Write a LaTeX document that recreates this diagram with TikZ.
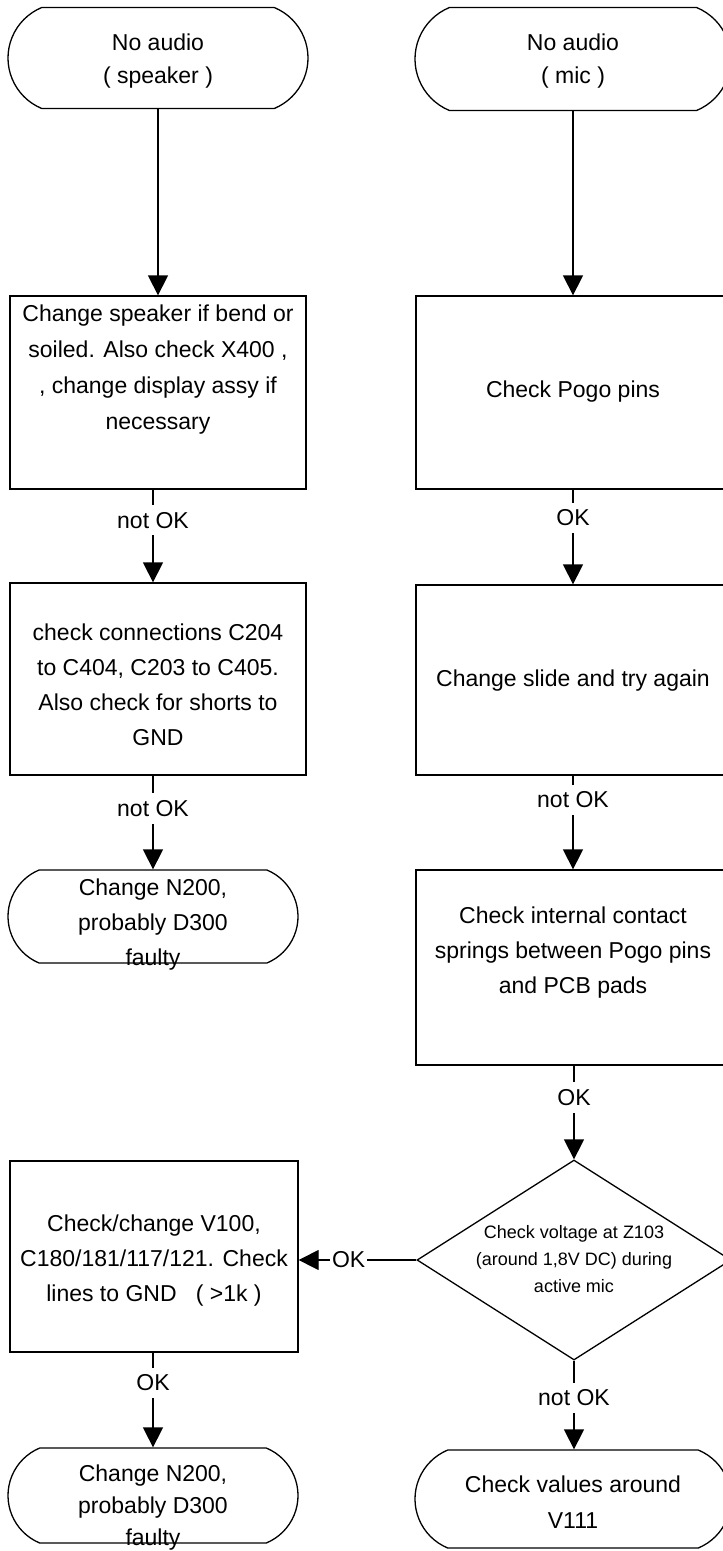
\documentclass[tikz,border=0pt]{standalone}
\usepackage{fontspec}
\setmainfont{Liberation Sans}
\usetikzlibrary{shapes.misc,shapes.geometric,arrows.meta}
\begin{document}
\begin{tikzpicture}[x=1pt,y=-1pt,
  term/.style={draw, line width=1.3pt, rounded rectangle, rounded rectangle arc length=135, inner sep=0pt},
  boxx/.style={draw, line width=1.3pt, rectangle, inner sep=0pt},
  dia/.style={draw, line width=1.3pt, diamond, inner sep=0pt},
  txt/.style={align=center, inner sep=0pt, font=\fontsize{23}{#1}\selectfont},
  txt/.default=35,
  lbl/.style={fill=white, inner xsep=2pt, inner ysep=7pt, font=\fontsize{23}{27}\selectfont},
  arr/.style={line width=1.3pt, -{Triangle[length=20pt,width=20pt]}}]
\useasboundingbox (0,0) rectangle (723,1551);
% left column
\node[term, minimum width=300pt, minimum height=101pt] (t1) at (158,58) {};
\node[txt=33] (t1txt) at (158,61) {No audio\\( speaker )};
\node[boxx, minimum width=296pt, minimum height=193pt] (b2) at (158,392.5) {};
\node[txt=36] (b2txt) at (158,370) {Change speaker if bend or\\soiled. Also check X400 ,\\, change display assy if\\necessary};
\node[boxx, minimum width=296pt, minimum height=192pt] (b3) at (158,679) {};
\node[txt=35] (b3txt) at (158,685) {check connections C204\\to C404, C203 to C405.\\Also check for shorts to\\GND};
\node[term, minimum width=290pt, minimum height=93pt] (t4) at (153,916.5) {};
\node[txt=35] (t4txt) at (153,925) {Change N200,\\probably D300\\faulty};
% right column
\node[term, minimum width=316pt, minimum height=103pt] (r1) at (573,59) {};
\node[txt=33] (r1txt) at (573,61) {No audio\\( mic )};
\node[boxx, minimum width=314pt, minimum height=193pt] (r2) at (573,392.5) {};
\node[txt] (r2txt) at (573,392) {Check Pogo pins};
\node[boxx, minimum width=314pt, minimum height=190pt] (r3) at (573,680) {};
\node[txt] (r3txt) at (573,681) {Change slide and try again};
\node[boxx, minimum width=314pt, minimum height=195pt] (r4) at (573,967.5) {};
\node[txt=35] (r4txt) at (573,953) {Check internal contact\\springs between Pogo pins\\and PCB pads};
\node[dia, minimum width=314pt, minimum height=200pt] (d) at (574,1260) {};
\node[align=center, inner sep=0pt, font=\fontsize{18}{27}\selectfont] (dtxt) at (574,1259) {Check voltage at Z103\\(around 1,8V DC) during\\active mic};
\node[term, minimum width=316pt, minimum height=98pt] (r5) at (573,1499) {};
\node[txt=36] (r5txt) at (573,1502) {Check values around\\V111};
% left bottom
\node[boxx, minimum width=288pt, minimum height=191pt] (b5) at (154,1256.5) {};
\node[txt=35] (b5txt) at (154,1261) {Check/change V100,\\C180/181/117/121. Check\\lines to GND\ \ \ ( >1k )};
\node[term, minimum width=290pt, minimum height=95pt] (t6) at (153,1495.5) {};
\node[txt=32] (t6txt) at (153,1508) {Change N200,\\probably D300\\faulty};
% connectors
\draw[arr] (t1) -- (b2);
\draw[arr] (b2.south -| t4) -- (b3.north -| t4) node[lbl, pos=0.33] {not OK};
\draw[arr] (b3.south -| t4) -- (t4.north) node[lbl, pos=0.35] {not OK};
\draw[arr] (r1) -- (r2);
\draw[arr] (r2) -- (r3) node[lbl, pos=0.3] {OK};
\draw[arr] (r3) -- (r4) node[lbl, pos=0.26] {not OK};
\draw[arr] (r4.south -| d) -- (d.north) node[lbl, pos=0.34] {OK};
\draw[arr] (d.south) -- (r5.north -| d) node[lbl, pos=0.42] {not OK};
\draw[arr] (d.west) -- (d.west -| b5.east) node[lbl, pos=0.575, inner ysep=2pt] {OK};
\draw[arr] (b5.south -| t6) -- (t6.north) node[lbl, pos=0.32] {OK};
\end{tikzpicture}
\end{document}
